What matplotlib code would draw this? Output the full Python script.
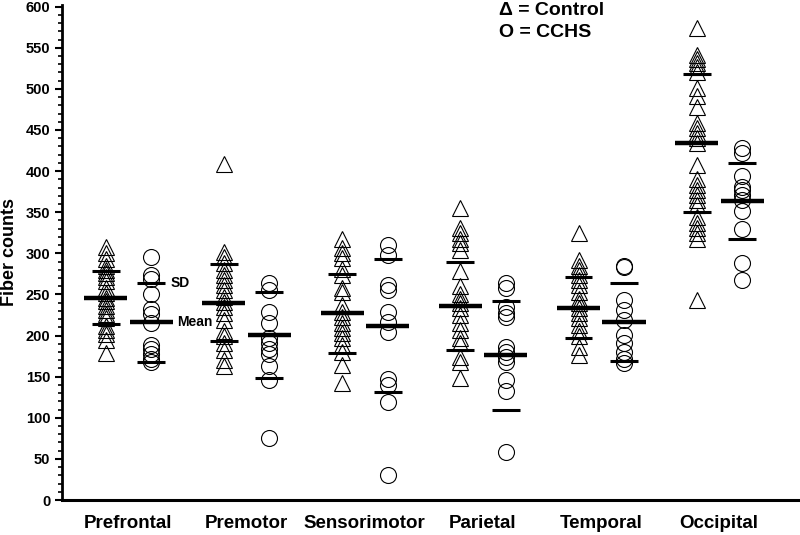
import matplotlib
matplotlib.use("Agg")
import matplotlib.pyplot as plt
from matplotlib.ticker import MultipleLocator

plt.rcParams['font.family'] = ['Liberation Sans', 'DejaVu Sans']
plt.rcParams['font.weight'] = 'bold'

regions = ["Prefrontal", "Premotor", "Sensorimotor", "Parietal", "Temporal", "Occipital"]

prefrontal_ctrl = [308, 300, 293, 285, 280, 276, 271, 266, 258, 252, 246, 242, 236, 231, 226, 221, 212, 207, 202, 195, 179]
prefrontal_cchs = [295, 274, 269, 251, 232, 226, 215, 188, 184, 178, 172, 168]
premotor_ctrl = [409, 302, 296, 288, 280, 274, 268, 262, 256, 247, 241, 235, 227, 219, 205, 199, 191, 182, 170, 163]
premotor_cchs = [264, 256, 229, 215, 197, 191, 184, 178, 163, 146, 76]
sensorimotor_ctrl = [318, 306, 300, 294, 281, 274, 258, 253, 237, 229, 222, 215, 209, 203, 197, 188, 180, 164, 142]
sensorimotor_cchs = [310, 298, 262, 255, 229, 217, 204, 147, 140, 119, 31]
parietal_ctrl = [355, 331, 325, 318, 312, 304, 278, 260, 251, 245, 239, 233, 225, 215, 207, 197, 191, 174, 168, 148]
parietal_cchs = [264, 258, 235, 228, 222, 186, 180, 174, 168, 146, 132, 58]
temporal_ctrl = [325, 292, 285, 280, 274, 268, 262, 253, 245, 239, 233, 227, 221, 213, 205, 199, 186, 176]
temporal_cchs = [285, 283, 243, 231, 219, 201, 191, 180, 172, 167]
occipital_ctrl = [574, 541, 536, 531, 526, 521, 501, 491, 478, 458, 453, 446, 440, 434, 407, 390,
                  383, 377, 371, 365, 359, 344, 337, 331, 325, 317, 243]
occipital_cchs = [428, 422, 394, 381, 377, 371, 365, 352, 329, 288, 268]

mean_ctrl = [246, 240, 227, 236, 234, 434]
sd_ctrl = [32.5, 47, 48, 54, 37, 83.5]
mean_cchs = [216, 201, 212, 176, 216, 364]
sd_cchs = [48.5, 52.5, 80.5, 66, 47.5, 46]

ctrl_data = [prefrontal_ctrl, premotor_ctrl, sensorimotor_ctrl, parietal_ctrl, temporal_ctrl, occipital_ctrl]
cchs_data = [prefrontal_cchs, premotor_cchs, sensorimotor_cchs, parietal_cchs, temporal_cchs, occipital_cchs]

fig = plt.figure(figsize=(8, 5.35), dpi=100)
ax = fig.add_axes([62 / 800, 35 / 535, 1 - 62 / 800, 495 / 535])

offset = 0.385
mean_hw = 0.182
sd_hw = 0.118

for i in range(len(regions)):
    xc = i
    xo = i + offset
    ax.plot([xc] * len(ctrl_data[i]), ctrl_data[i], linestyle='none', marker='^',
            markersize=11.5, markerfacecolor='none', markeredgecolor='black', markeredgewidth=0.8)
    ax.plot([xo] * len(cchs_data[i]), cchs_data[i], linestyle='none', marker='o',
            markersize=11.5, markerfacecolor='none', markeredgecolor='black', markeredgewidth=0.8)
    for x, m, s in ((xc, mean_ctrl[i], sd_ctrl[i]), (xo, mean_cchs[i], sd_cchs[i])):
        ax.hlines(m, x - mean_hw, x + mean_hw, color='black', linewidth=3.2, zorder=5)
        ax.hlines([m + s, m - s], x - sd_hw, x + sd_hw, color='black', linewidth=2.2, zorder=5)

ax.text(offset + 0.16, mean_cchs[0] + sd_cchs[0], "SD", fontsize=10, fontweight='bold', va='center', ha='left')
ax.text(offset + 0.215, mean_cchs[0], "Mean", fontsize=10, fontweight='bold', va='center', ha='left')

ax.text(3.33, 595, "\u0394 = Control", fontsize=14, fontweight='bold', va='center', ha='left')
ax.text(3.33, 569, "O = CCHS", fontsize=14, fontweight='bold', va='center', ha='left')

ax.set_xlim(-0.37, 5.874)
ax.set_ylim(0, 602)
ax.yaxis.set_major_locator(MultipleLocator(50))
ax.yaxis.set_minor_locator(MultipleLocator(10))
ax.tick_params(axis='y', which='major', length=5, width=1.5, labelsize=10.5, direction='out')
ax.tick_params(axis='y', which='minor', length=3, width=1.2, direction='out')
for lab in ax.get_yticklabels():
    lab.set_fontweight('bold')

ax.set_xticks([i + 0.19 for i in range(len(regions))])
ax.set_xticklabels(regions, fontsize=13.5, fontweight='bold')
ax.tick_params(axis='x', length=0, pad=11)

ax.set_ylabel("Fiber counts", fontsize=13, fontweight='bold', labelpad=5)

for side in ('top', 'right'):
    ax.spines[side].set_visible(False)
ax.spines['left'].set_linewidth(2)
ax.spines['bottom'].set_linewidth(2.2)

fig.savefig("out.png", dpi=100)
